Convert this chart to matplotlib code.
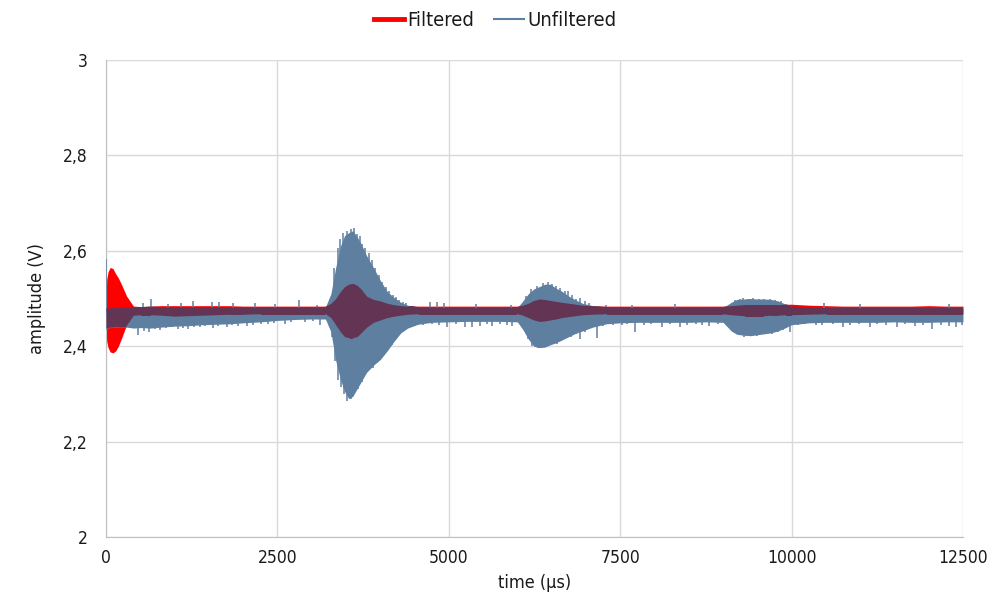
import matplotlib.pyplot as plt
from matplotlib.lines import Line2D

# envelope of both signals, sampled at uneven times (denser around the bursts)
t_us = [0, 10, 30, 60, 100, 140, 180, 230, 300, 400,
        500, 650, 800, 1000, 1200, 1400, 1600, 1800, 2000, 2250,
        2500, 2750, 3000, 3200, 3280, 3350, 3420, 3480, 3540, 3600,
        3660, 3720, 3800, 3900, 4000, 4100, 4200, 4300, 4400, 4550,
        4750, 5000, 5250, 5500, 5750, 6000, 6080, 6160, 6240, 6320,
        6400, 6480, 6560, 6650, 6750, 6850, 6950, 7100, 7300, 7500,
        7750, 8000, 8250, 8500, 8750, 9000, 9120, 9200, 9300, 9400,
        9500, 9600, 9700, 9800, 9900, 10000, 10250, 10500, 10750, 11000,
        11250, 11500, 11750, 12000, 12250, 12500]

unf_hi = [2.480, 2.480, 2.479, 2.479, 2.480, 2.480, 2.481, 2.481, 2.482, 2.482,
          2.483, 2.484, 2.482, 2.481, 2.482, 2.481, 2.482, 2.481, 2.481, 2.481,
          2.481, 2.481, 2.481, 2.482, 2.510, 2.565, 2.610, 2.632, 2.638, 2.642,
          2.630, 2.615, 2.590, 2.565, 2.538, 2.515, 2.502, 2.492, 2.486, 2.482,
          2.481, 2.480, 2.480, 2.480, 2.480, 2.481, 2.495, 2.510, 2.520, 2.525,
          2.530, 2.530, 2.522, 2.515, 2.505, 2.497, 2.490, 2.485, 2.482, 2.481,
          2.480, 2.480, 2.480, 2.480, 2.480, 2.481, 2.492, 2.498, 2.499, 2.500,
          2.499, 2.499, 2.498, 2.495, 2.489, 2.483, 2.481, 2.480, 2.480, 2.480,
          2.480, 2.480, 2.480, 2.480, 2.480, 2.480]
unf_lo = [2.435, 2.438, 2.438, 2.439, 2.439, 2.440, 2.440, 2.440, 2.440, 2.438,
          2.439, 2.438, 2.440, 2.442, 2.443, 2.445, 2.446, 2.447, 2.449, 2.451,
          2.454, 2.456, 2.457, 2.457, 2.430, 2.370, 2.330, 2.305, 2.290, 2.295,
          2.310, 2.325, 2.345, 2.360, 2.372, 2.390, 2.410, 2.428, 2.438, 2.446,
          2.450, 2.451, 2.452, 2.452, 2.452, 2.451, 2.435, 2.415, 2.400, 2.397,
          2.398, 2.403, 2.407, 2.413, 2.420, 2.427, 2.432, 2.440, 2.447, 2.449,
          2.450, 2.450, 2.450, 2.450, 2.451, 2.450, 2.432, 2.425, 2.423, 2.422,
          2.424, 2.426, 2.428, 2.432, 2.438, 2.445, 2.449, 2.450, 2.450, 2.450,
          2.450, 2.451, 2.450, 2.450, 2.451, 2.451]

filt_hi = [2.500, 2.540, 2.556, 2.565, 2.563, 2.552, 2.543, 2.528, 2.505, 2.484,
           2.483, 2.484, 2.485, 2.485, 2.485, 2.485, 2.485, 2.485, 2.484, 2.484,
           2.484, 2.484, 2.484, 2.484, 2.490, 2.500, 2.515, 2.525, 2.530, 2.532,
           2.528, 2.520, 2.505, 2.498, 2.495, 2.490, 2.487, 2.485, 2.484, 2.484,
           2.484, 2.484, 2.484, 2.484, 2.484, 2.484, 2.486, 2.490, 2.496, 2.499,
           2.498, 2.496, 2.494, 2.492, 2.490, 2.488, 2.486, 2.485, 2.484, 2.484,
           2.484, 2.484, 2.484, 2.484, 2.484, 2.484, 2.485, 2.486, 2.487, 2.487,
           2.487, 2.487, 2.487, 2.487, 2.488, 2.488, 2.486, 2.485, 2.484, 2.484,
           2.484, 2.484, 2.484, 2.485, 2.484, 2.484]
filt_lo = [2.440, 2.410, 2.397, 2.388, 2.386, 2.390, 2.400, 2.418, 2.445, 2.465,
           2.466, 2.466, 2.465, 2.463, 2.464, 2.465, 2.466, 2.467, 2.467, 2.468,
           2.468, 2.468, 2.468, 2.468, 2.460, 2.445, 2.430, 2.420, 2.418, 2.418,
           2.420, 2.428, 2.440, 2.450, 2.455, 2.460, 2.463, 2.465, 2.467, 2.468,
           2.468, 2.468, 2.468, 2.468, 2.468, 2.468, 2.465, 2.460, 2.455, 2.452,
           2.453, 2.455, 2.457, 2.460, 2.462, 2.464, 2.466, 2.467, 2.468, 2.468,
           2.468, 2.468, 2.468, 2.468, 2.468, 2.468, 2.466, 2.465, 2.464, 2.464,
           2.464, 2.464, 2.465, 2.465, 2.466, 2.466, 2.467, 2.468, 2.468, 2.468,
           2.468, 2.468, 2.468, 2.468, 2.468, 2.468]

# single noise spikes of the unfiltered trace, upwards and downwards
up_t = [0, 540, 655, 900, 1100, 1270, 1545, 1650, 1855, 2170,
        2465, 2815, 3080, 3330, 3380, 3420, 3460, 3520, 3580, 3620,
        3660, 3700, 3740, 3780, 3830, 3880, 3930, 3980, 4030, 4080,
        4130, 4180, 4230, 4280, 4330, 4380, 4725, 4830, 4930, 5400,
        5900, 6120, 6200, 6280, 6380, 6450, 6500, 6560, 6620, 6700,
        6740, 6800, 6860, 6910, 6980, 7050, 7300, 7670, 8300, 9180,
        9250, 9290, 9360, 9440, 9520, 9600, 9685, 9760, 9850, 10470,
        11000, 12300]
up_v = [2.583, 2.491, 2.499, 2.489, 2.490, 2.495, 2.492, 2.493, 2.490, 2.490,
        2.488, 2.497, 2.486, 2.565, 2.605, 2.625, 2.638, 2.642, 2.646, 2.648,
        2.635, 2.630, 2.615, 2.605, 2.595, 2.580, 2.565, 2.550, 2.535, 2.525,
        2.515, 2.508, 2.503, 2.497, 2.492, 2.490, 2.493, 2.492, 2.490, 2.488,
        2.487, 2.505, 2.520, 2.527, 2.532, 2.535, 2.530, 2.526, 2.522, 2.516,
        2.515, 2.507, 2.500, 2.502, 2.495, 2.490, 2.487, 2.486, 2.488, 2.497,
        2.500, 2.501, 2.500, 2.502, 2.498, 2.500, 2.500, 2.497, 2.495, 2.491,
        2.489, 2.488]

dn_t = [470, 560, 620, 720, 790, 880, 960, 1050, 1130, 1200,
        1290, 1370, 1440, 1560, 1640, 1760, 1840, 1930, 2050, 2150,
        2260, 2365, 2450, 2610, 2700, 2900, 3020, 3120, 3300, 3340,
        3390, 3430, 3470, 3520, 3570, 3620, 3680, 3730, 3780, 3840,
        3890, 3950, 4000, 4060, 4120, 4170, 4230, 4290, 4350, 4500,
        4620, 4750, 4860, 4975, 5100, 5235, 5335, 5455, 5560, 5630,
        5750, 5850, 5920, 6150, 6220, 6300, 6380, 6440, 6520, 6580,
        6640, 6700, 6780, 6850, 6910, 6990, 7160, 7250, 7400, 7520,
        7600, 7715, 7850, 7950, 8110, 8230, 8370, 8480, 8600, 8700,
        8800, 8920, 9150, 9220, 9300, 9380, 9420, 9500, 9580, 9650,
        9715, 9800, 9880, 9975, 10100, 10200, 10350, 10450, 10600, 10750,
        10850, 10980, 11145, 11250, 11380, 11540, 11650, 11800, 11920, 12050,
        12180, 12300, 12400, 12480]
dn_v = [2.423, 2.432, 2.430, 2.436, 2.434, 2.438, 2.440, 2.436, 2.439, 2.437,
        2.441, 2.440, 2.442, 2.438, 2.443, 2.440, 2.444, 2.442, 2.443, 2.445,
        2.446, 2.447, 2.449, 2.447, 2.450, 2.451, 2.452, 2.444, 2.420, 2.370,
        2.330, 2.315, 2.300, 2.285, 2.290, 2.300, 2.310, 2.325, 2.340, 2.350,
        2.355, 2.365, 2.372, 2.385, 2.395, 2.402, 2.415, 2.425, 2.432, 2.443,
        2.444, 2.446, 2.445, 2.440, 2.446, 2.440, 2.440, 2.443, 2.446, 2.442,
        2.446, 2.445, 2.443, 2.415, 2.400, 2.396, 2.398, 2.400, 2.405, 2.405,
        2.410, 2.415, 2.420, 2.425, 2.415, 2.430, 2.417, 2.443, 2.445, 2.444,
        2.446, 2.430, 2.445, 2.446, 2.440, 2.446, 2.440, 2.445, 2.446, 2.444,
        2.442, 2.446, 2.430, 2.425, 2.420, 2.423, 2.424, 2.422, 2.425, 2.428,
        2.425, 2.430, 2.435, 2.430, 2.444, 2.446, 2.445, 2.444, 2.446, 2.440,
        2.445, 2.446, 2.440, 2.446, 2.444, 2.440, 2.446, 2.442, 2.445, 2.436,
        2.445, 2.443, 2.440, 2.444]

x_ticks = [0, 2500, 5000, 7500, 10000, 12500]
y_ticks = [2.0, 2.2, 2.4, 2.6, 2.8, 3.0]

red = '#ff0000'
blue = '#5f7fa0'
overlap = '#633453'
gridcolor = '#d9d9d9'
textcolor = '#1a1a1a'

plt.rcParams['font.family'] = 'DejaVu Sans'
plt.rcParams['font.stretch'] = 'condensed'

fig = plt.figure(figsize=(9.9, 6.1), dpi=100)
ax = fig.add_axes([0.1071, 0.1197, 0.8656, 0.7819])

ax.fill_between(t_us, filt_lo, filt_hi, color=red, lw=0, zorder=2)
unf = ax.fill_between(t_us, unf_lo, unf_hi, color=blue, lw=0, zorder=3)
ax.vlines(up_t, 2.47, up_v, color=blue, lw=1.1, zorder=3)
ax.vlines(dn_t, 2.47, dn_v, color=blue, lw=1.1, zorder=3)

# where both traces overlap the colour turns dark
both = ax.fill_between(t_us, filt_lo, filt_hi, color=overlap, lw=0, zorder=4)
both.set_clip_path(unf.get_paths()[0], transform=ax.transData)

ax.set_xlim(0, 12500)
ax.set_ylim(2, 3)
ax.set_xticks(x_ticks)
ax.set_xticklabels([str(v) for v in x_ticks])
ax.set_yticks(y_ticks)
ax.set_yticklabels([('%g' % v).replace('.', ',') for v in y_ticks])
ax.tick_params(length=0, labelsize=12.5, colors=textcolor)
ax.tick_params(axis='x', pad=9)
ax.tick_params(axis='y', pad=13)

ax.grid(color=gridcolor, lw=1)
ax.set_axisbelow(True)
for side in ['top', 'right']:
    ax.spines[side].set_visible(False)
for side in ['left', 'bottom']:
    ax.spines[side].set_color('#bfbfbf')

ax.set_xlabel('time (µs)', fontsize=13, color=textcolor, labelpad=5)
ax.set_ylabel('amplitude (V)', fontsize=13, color=textcolor, labelpad=12)

handles = [Line2D([], [], color=red, lw=3.5),
           Line2D([], [], color=blue, lw=1.5)]
fig.legend(handles, ['Filtered', 'Unfiltered'], loc='center', bbox_to_anchor=(0.5, 0.967),
           ncol=2, frameon=False, fontsize=14.5, handlelength=1.5, handletextpad=0.15,
           columnspacing=1.0, labelcolor=textcolor)

plt.savefig('out.png')
